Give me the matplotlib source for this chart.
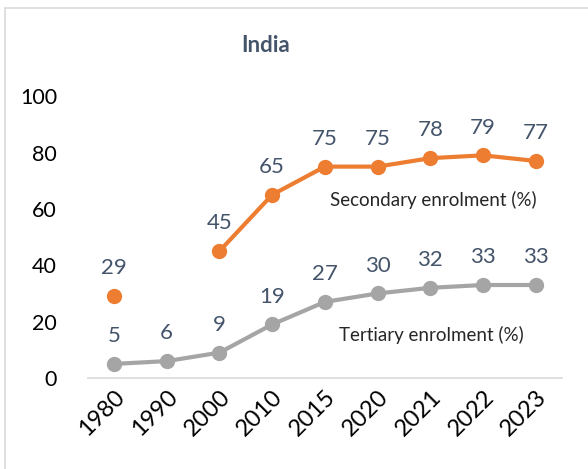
import numpy as np
import matplotlib.pyplot as plt
from matplotlib.patches import Rectangle

plt.rcParams['font.family'] = ['Lato', 'DejaVu Sans']

#%% Data
years = ['1980', '1990', '2000', '2010', '2015', '2020', '2021', '2022', '2023']
secondary = [29, np.nan, 45, 65, 75, 75, 78, 79, 77]
tertiary = [5, 6, 9, 19, 27, 30, 32, 33, 33]

orange = '#ED7D31'
grey = '#A5A5A5'
slate = '#44546A'

#%% Chart
fig = plt.figure(figsize=(5.88, 4.69), dpi=100)
ax = fig.add_axes([0.149, 0.194, 0.807, 0.601])

x = np.arange(len(years))
ax.plot(x, secondary, color=orange, lw=3, marker='o', ms=10, zorder=3)
ax.plot(x, tertiary, color=grey, lw=3, marker='o', ms=10, zorder=3)

for xi, v in zip(x, secondary):
    if not np.isnan(v):
        ax.annotate(f'{v:.0f}', (xi, v), xytext=(0, 20), textcoords='offset points',
                    ha='center', va='center', fontsize=16, color=slate)
for xi, v in zip(x, tertiary):
    ax.annotate(f'{v:.0f}', (xi, v), xytext=(0, 20), textcoords='offset points',
                ha='center', va='center', fontsize=16, color=slate)

ax.text(6.05, 63, 'Secondary enrolment (%)', ha='center', va='center', fontsize=13.5, color='#262626')
ax.text(6.02, 15.2, 'Tertiary enrolment (%)', ha='center', va='center', fontsize=13.5, color='#262626')

ax.set_xlim(-0.5, len(years) - 0.5)
ax.set_ylim(0, 100)
ax.set_yticks([0, 20, 40, 60, 80, 100])
ax.set_xticks(x)
ax.set_xticklabels(years, rotation=45, ha='right', rotation_mode='anchor')
ax.tick_params(length=0, colors='black')
ax.tick_params(axis='y', pad=22, labelsize=15.5)
ax.tick_params(axis='x', pad=6, labelsize=17)
for s in ['top', 'right', 'left']:
    ax.spines[s].set_visible(False)
ax.spines['bottom'].set_color('#D9D9D9')
ax.spines['bottom'].set_linewidth(1.2)

fig.text(0.451, 0.904, 'India', ha='center', va='center', fontsize=16,
         fontweight='bold', color=slate)

fig.patches.append(Rectangle((0.009, -0.02), 1.1, 1.003, transform=fig.transFigure,
                             fill=False, edgecolor='#D9D9D9', lw=1.2))

plt.savefig('out.png', dpi=100)
